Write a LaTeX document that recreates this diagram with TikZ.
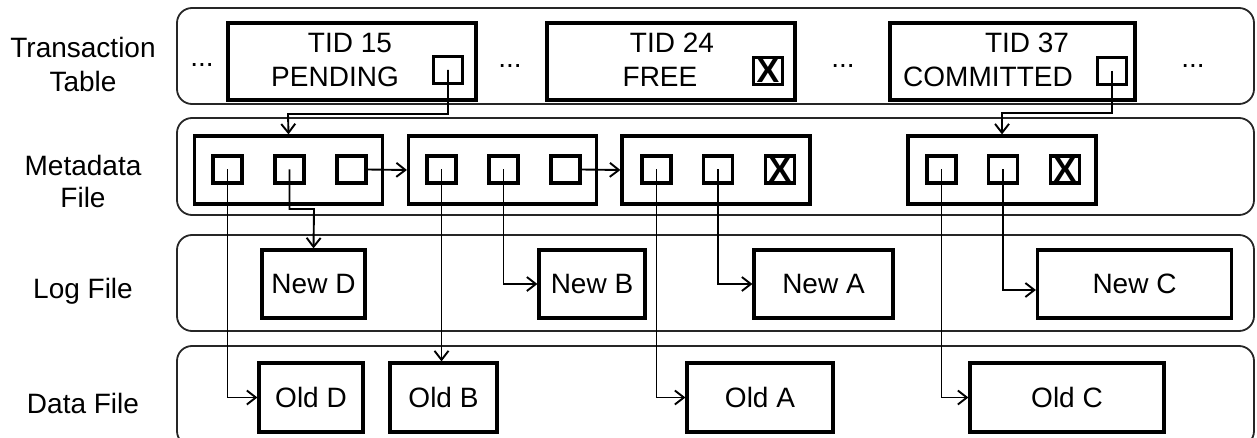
\documentclass[tikz,border=0pt]{standalone}
\usepackage{fontspec}
\setmainfont{Liberation Sans}
\usetikzlibrary{arrows.meta}
\tikzset{
  every node/.style={font=\fontsize{14pt}{17pt}\selectfont},
  lane/.style={draw=black!85, line width=0.9pt, rounded corners=7.5pt},
  rec/.style={draw, line width=1.6pt, inner sep=0pt},
  slot/.style={draw, line width=1.6pt, inner sep=0pt, minimum width=14.5pt, minimum height=13.5pt},
  xslot/.style={slot, font=\fontsize{17pt}{17pt}\selectfont\bfseries},
  link/.style={line width=0.95pt, ->},
  >={Straight Barb[length=4.5pt,width=7pt]},
}
\begin{document}
\begin{tikzpicture}[x=0.5pt,y=-0.5pt]
\useasboundingbox (0,0) rectangle (1257,438);

% lanes and their labels
\draw[lane] (177,8) rectangle (1254,104);
\draw[lane] (177,118) rectangle (1254,215);
\draw[lane] (177,235) rectangle (1254,331);
\draw[lane] (177,346) rectangle (1254,446);
\node[anchor=base] (lbltt1) at (83,58) {Transaction};
\node[anchor=base] (lbltt2) at (83,92) {Table};
\node[anchor=base] (lblmd1) at (83,176) {Metadata};
\node[anchor=base] (lblmd2) at (83,208) {File};
\node[anchor=base] (lbllog) at (83,298) {Log File};
\node[anchor=base] (lbldat) at (83,413) {Data File};

% transaction table
\node (dots1) at (202,65) {...};
\node (dots2) at (510,66) {...};
\node (dots3) at (843,66) {...};
\node (dots4) at (1193,66) {...};
\node[rec, minimum width=124pt, minimum height=38.5pt] (tx15) at (352,61.5) {};
\node[anchor=base] at (350,53) {TID 15};
\node[anchor=base] at (335,87) {PENDING};
\node[slot] (sq15) at (448,70) {};
\node[rec, minimum width=124pt, minimum height=38.5pt] (tx24) at (671,61.5) {};
\node[anchor=base] at (672,53) {TID 24};
\node[anchor=base] at (660,87) {FREE};
\node[xslot] (sq24) at (768,71) {X};
\node[rec, minimum width=122.5pt, minimum height=38.5pt] (tx37) at (1012.5,61.5) {};
\node[anchor=base] at (1027,53) {TID 37};
\node[anchor=base] at (988,87) {COMMITTED};
\node[slot] (sq37) at (1112,71) {};

% metadata file
\node[rec, minimum width=94pt, minimum height=34pt] (md1) at (288.5,170) {};
\node[slot] (s11) at (227.5,169.5) {};
\node[slot] (s12) at (289.5,169.5) {};
\node[slot] (s13) at (351.5,169.5) {};
\node[rec, minimum width=94pt, minimum height=34pt] (md2) at (502.5,170) {};
\node[slot] (s21) at (441.5,169.5) {};
\node[slot] (s22) at (503.5,169.5) {};
\node[slot] (s23) at (565.5,169.5) {};
\node[rec, minimum width=94pt, minimum height=34pt] (md3) at (716,170) {};
\node[slot] (s31) at (656.5,169.5) {};
\node[slot] (s32) at (718,169.5) {};
\node[xslot] (s33) at (780,169.5) {X};
\node[rec, minimum width=94pt, minimum height=34pt] (md4) at (1002,170) {};
\node[slot] (s41) at (941.5,169.5) {};
\node[slot] (s42) at (1003,169.5) {};
\node[xslot] (s43) at (1065,169.5) {X};

% log file
\node[rec, minimum width=51.5pt, minimum height=34pt] (newD) at (313.5,284) {New D};
\node[rec, minimum width=53pt, minimum height=34pt] (newB) at (592,284) {New B};
\node[rec, minimum width=69.5pt, minimum height=34pt] (newA) at (823.5,284) {New A};
\node[rec, minimum width=97pt, minimum height=34pt] (newC) at (1134.5,284) {New C};

% data file
\node[rec, minimum width=52pt, minimum height=34.5pt] (oldD) at (311,397.5) {Old D};
\node[rec, minimum width=53.5pt, minimum height=34.5pt] (oldB) at (443.5,397.5) {Old B};
\node[rec, minimum width=73pt, minimum height=34.5pt] (oldA) at (760,397.5) {Old A};
\node[rec, minimum width=97pt, minimum height=34.5pt] (oldC) at (1067,397.5) {Old C};

% pointers
\coordinate (bend15) at (288,114);
\coordinate (bend37) at (1002,113);
\coordinate (bendD) at (314,209);
\draw[link] (sq15.center) |- (bend15) -- (md1.north);
\draw[link] (sq37.center) |- (bend37) -- (md4.north);
\draw[link] (s13.east) -- (md2.west);
\draw[link] (s23.east) -- (md3.west);
\draw[link] (s11.center) |- (oldD.west);
\draw[link] (s12.center) |- (bendD) -- (newD.north);
\draw[link] (s21.center) -- (s21.center |- oldB.north);
\draw[link] (s22.center) |- (newB.west);
\draw[link] (s31.center) |- (oldA.west);
\draw[link] (s32.center) |- (newA.west);
\draw[link] (s41.center) |- (oldC.west);
\draw[link] (s42.center) |- ([yshift=-3pt]newC.west);
\end{tikzpicture}
\end{document}
